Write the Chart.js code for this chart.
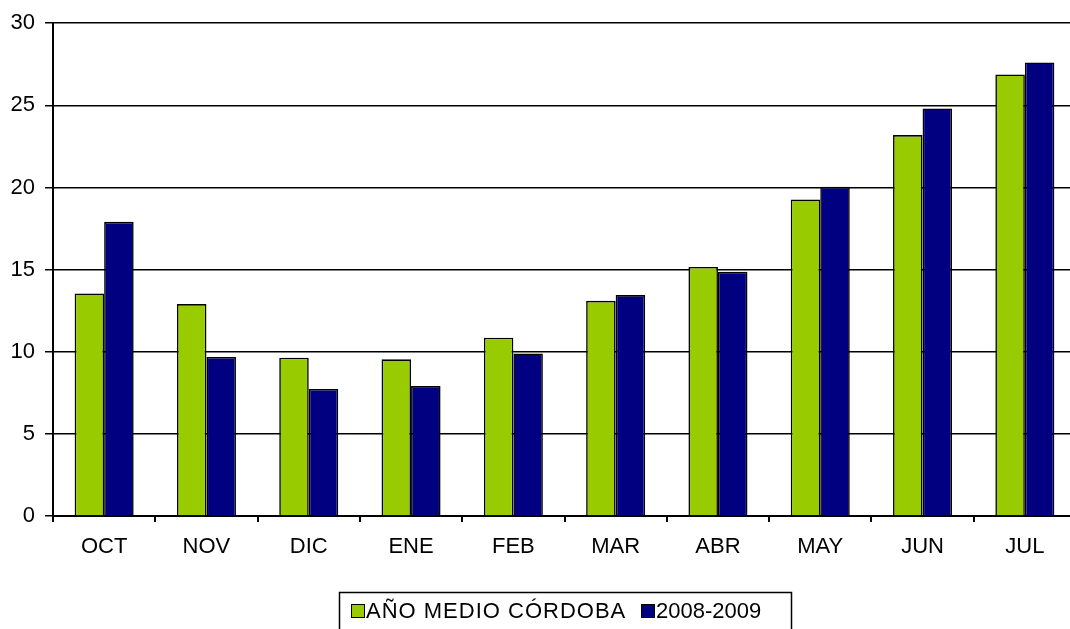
<!DOCTYPE html>
<html>
<head>
<meta charset="utf-8">
<script src="https://cdn.jsdelivr.net/npm/chart.js@4/dist/chart.umd.min.js"></script>
<style>
  html, body { margin: 0; padding: 0; background: #fff; overflow: hidden; }
  #wrap { width: 1080px; height: 629px; position: relative; }
</style>
</head>
<body>
<div id="wrap"><canvas id="c"></canvas></div>
<script>
const categories = ['OCT', 'NOV', 'DIC', 'ENE', 'FEB', 'MAR', 'ABR', 'MAY', 'JUN', 'JUL'];
const seriesNames = ['AÑO MEDIO CÓRDOBA', '2008-2009'];
const anoMedio = [13.55, 12.9, 9.64, 9.54, 10.85, 13.1, 15.16, 19.27, 23.19, 26.88];
const temporada = [17.91, 9.68, 7.73, 7.91, 9.9, 13.45, 14.87, 20.04, 24.81, 27.61];
const yTicks = [0, 5, 10, 15, 20, 25, 30];

const FONT = "'Liberation Sans', Arial, sans-serif";

const boxedLegend = {
  id: 'boxedLegend',
  afterDraw(chart) {
    const ctx = chart.ctx;
    ctx.save();
    ctx.strokeStyle = '#000';
    ctx.lineWidth = 1.5;
    ctx.strokeRect(339.5, 592.5, 452, 60);
    ctx.font = '22px ' + FONT;
    ctx.textBaseline = 'middle';
    ctx.fillStyle = '#000';
    const pos = [{ box: 351, text: 366 }, { box: 641, text: 656 }];
    chart.data.datasets.forEach((ds, i) => {
      const p = pos[i];
      ctx.fillStyle = ds.backgroundColor;
      ctx.fillRect(p.box, 604, 14, 14);
      ctx.lineWidth = 1;
      ctx.strokeStyle = '#000';
      ctx.strokeRect(p.box + 0.5, 604.5, 13, 13);
      ctx.fillStyle = '#000';
      if (i === 0) { try { ctx.letterSpacing = '1px'; } catch (e) {} }
      else { try { ctx.letterSpacing = '0px'; } catch (e) {} }
      ctx.fillText(ds.label, p.text, 612);
    });
    ctx.restore();
  }
};

new Chart(document.getElementById('c'), {
  type: 'bar',
  data: {
    labels: categories,
    datasets: [
      { label: seriesNames[0], data: anoMedio, backgroundColor: '#99CC00', borderColor: '#000', borderWidth: 1.6 },
      { label: seriesNames[1], data: temporada, backgroundColor: '#000080', borderColor: '#000', borderWidth: 1.6 }
    ]
  },
  options: {
    responsive: true,
    maintainAspectRatio: false,
    animation: false,
    layout: { padding: { top: 23, left: 0, right: 4, bottom: 0 } },
    datasets: { bar: { categoryPercentage: 0.577, barPercentage: 1.0 } },
    plugins: {
      legend: { display: false },
      tooltip: { enabled: false }
    },
    scales: {
      x: {
        offset: true,
        grid: { drawOnChartArea: false, drawTicks: true, tickLength: 6, color: '#000', lineWidth: 2, offset: true },
        border: { display: true, color: '#000', width: 2 },
        ticks: { color: '#000', font: { family: FONT, size: 22 }, padding: 12, maxRotation: 0 },
        afterFit(scale) { scale.height = 113; }
      },
      y: {
        min: 0, max: 30,
        afterBuildTicks(scale) { scale.ticks = yTicks.map(v => ({ value: v })); },
        grid: { color: '#000', lineWidth: 1.5, tickLength: 8, drawTicks: true },
        border: { display: true, color: '#000', width: 2 },
        ticks: { color: '#000', font: { family: FONT, size: 22 }, padding: 10 },
        afterFit(scale) { scale.width = 53; }
      }
    }
  },
  plugins: [boxedLegend]
});
</script>
</body>
</html>
